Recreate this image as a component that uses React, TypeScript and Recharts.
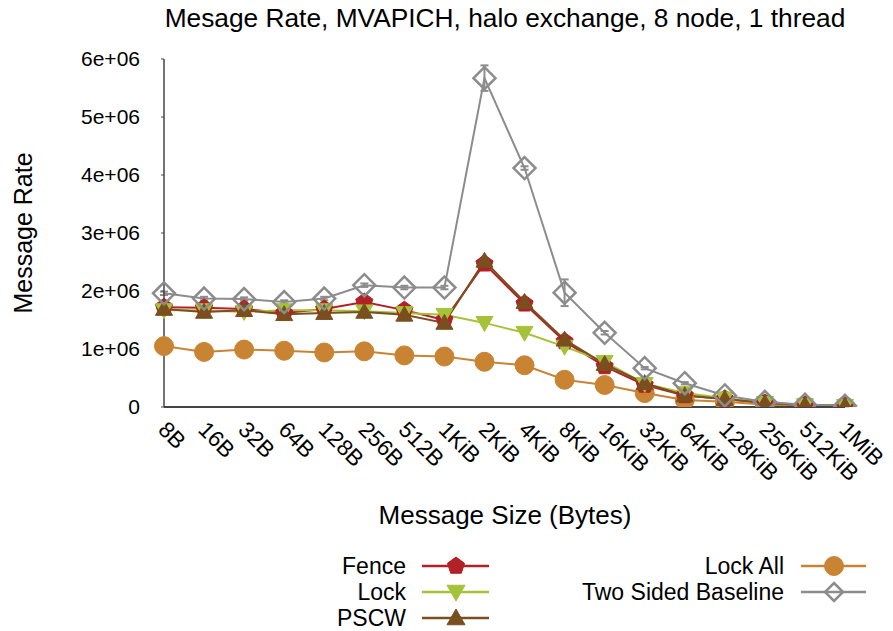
import React from 'react';
import { LineChart, Line, XAxis, YAxis, ErrorBar } from 'recharts';

const categories = ['8B','16B','32B','64B','128B','256B','512B','1KiB','2KiB','4KiB','8KiB','16KiB','32KiB','64KiB','128KiB','256KiB','512KiB','1MiB'];
const fence = [1.72,1.71,1.69,1.62,1.69,1.81,1.67,1.50,2.47,1.78,1.13,0.70,0.38,0.20,0.14,0.07,0.035,0.02];
const lock = [1.67,1.67,1.64,1.67,1.67,1.65,1.62,1.59,1.45,1.28,1.04,0.78,0.40,0.24,0.15,0.07,0.035,0.02];
const pscw = [1.69,1.64,1.67,1.60,1.62,1.64,1.59,1.45,2.52,1.81,1.16,0.74,0.41,0.20,0.14,0.07,0.035,0.02];
const lockAll = [1.05,0.95,0.99,0.97,0.94,0.96,0.89,0.87,0.78,0.72,0.47,0.38,0.24,0.12,0.09,0.04,0.02,0.01];
const twoSided = [1.96,1.87,1.86,1.81,1.87,2.10,2.06,2.06,5.67,4.12,1.97,1.28,0.67,0.41,0.20,0.09,0.04,0.02];
const twoSidedErr = [0.03,0.03,0.03,0.03,0.03,0.03,0.03,0.03,0.22,0.03,0.23,0.03,0.02,0.02,0.01,0.01,0.01,0.01];
const yTicks = [0, 1e6, 2e6, 3e6, 4e6, 5e6, 6e6];
const yTickLabels = ['0','1e+06','2e+06','3e+06','4e+06','5e+06','6e+06'];

const M = 1e6;
const data = categories.map((c, i) => ({
  cat: c,
  fence: fence[i] * M,
  lock: lock[i] * M,
  pscw: pscw[i] * M,
  lockAll: lockAll[i] * M,
  twoSided: twoSided[i] * M,
  tsErr: twoSidedErr[i] * M,
}));

const C_FENCE = '#b22126';
const C_LOCK = '#a6c238';
const C_PSCW = '#7a4f1f';
const C_LOCKALL = '#c98433';
const C_TWO = '#8c8c8c';
const FONT = '"Liberation Sans", Arial, Helvetica, sans-serif';

function pentagon(cx: number, cy: number, r: number, color: string, key?: any) {
  const pts = [];
  for (let k = 0; k < 5; k++) {
    const a = -Math.PI / 2 + (k * 2 * Math.PI) / 5;
    pts.push(`${cx + r * Math.cos(a)},${cy + r * Math.sin(a)}`);
  }
  return <polygon key={key} points={pts.join(' ')} fill={color} stroke={color} strokeWidth={1} />;
}
function triDown(cx: number, cy: number, r: number, color: string, key?: any) {
  return <polygon key={key} points={`${cx - r},${cy - r * 0.75} ${cx + r},${cy - r * 0.75} ${cx},${cy + r}`} fill={color} stroke={color} />;
}
function triUp(cx: number, cy: number, r: number, color: string, key?: any) {
  return <polygon key={key} points={`${cx - r},${cy + r * 0.75} ${cx + r},${cy + r * 0.75} ${cx},${cy - r}`} fill={color} stroke={color} />;
}
function circle(cx: number, cy: number, r: number, color: string, key?: any) {
  return <circle key={key} cx={cx} cy={cy} r={r} fill={color} stroke={color} />;
}
function diamond(cx: number, cy: number, r: number, color: string, key?: any) {
  return <polygon key={key} points={`${cx},${cy - r} ${cx + r},${cy} ${cx},${cy + r} ${cx - r},${cy}`} fill="none" stroke={color} strokeWidth={2.5} />;
}

const dotOf = (fn: any, r: number, color: string) => (p: any) => {
  if (p.cx == null || p.cy == null) return <g key={p.key} />;
  return fn(p.cx, p.cy, r, color, p.key);
};

const XTick = (props: any) => {
  const { x, y, payload } = props;
  const tx = x - 7;
  const ty = y + 16;
  return (
    <text x={tx} y={ty} transform={`rotate(45, ${tx}, ${ty})`} textAnchor="start" fontSize={22.5} fontFamily={FONT} fill="#000">
      {payload.value}
    </text>
  );
};

const legendLeft = [
  { name: 'Fence', color: C_FENCE, fn: pentagon, r: 9, y: 566 },
  { name: 'Lock', color: C_LOCK, fn: triDown, r: 9, y: 592 },
  { name: 'PSCW', color: C_PSCW, fn: triUp, r: 9, y: 618 },
];
const legendRight = [
  { name: 'Lock All', color: C_LOCKALL, fn: circle, r: 9.5, y: 566 },
  { name: 'Two Sided Baseline', color: C_TWO, fn: diamond, r: 9, y: 592 },
];

export default function App() {
  return (
    <div style={{ position: 'absolute', left: 0, top: 0, width: 893, height: 631, background: '#fff' }}>
      <LineChart
        width={893}
        height={631}
        data={data}
        margin={{ top: 59, right: 48, bottom: 164, left: 84 }}
      >
        <XAxis
          dataKey="cat"
          height={60}
          tickLine={false}
          interval={0}
          tick={<XTick />}
          axisLine={{ stroke: '#444', strokeWidth: 2 }}
          padding={{ left: 0, right: 0 }}
        />
        <YAxis
          width={80}
          domain={[0, 6e6]}
          ticks={yTicks}
          tickFormatter={(v: number) => yTickLabels[yTicks.indexOf(v)] ?? String(v)}
          tickSize={3}
          tickMargin={21}
          tickLine={{ stroke: '#444' }}
          axisLine={{ stroke: '#444', strokeWidth: 1.5 }}
          tick={{ fontSize: 21, fontFamily: FONT, fill: '#000' }}
          allowDataOverflow
        />
        <Line dataKey="lockAll" stroke={C_LOCKALL} strokeWidth={2} dot={dotOf(circle, 9.5, C_LOCKALL)} isAnimationActive={false} />
        <Line dataKey="fence" stroke={C_FENCE} strokeWidth={2} dot={dotOf(pentagon, 9, C_FENCE)} isAnimationActive={false} />
        <Line dataKey="lock" stroke={C_LOCK} strokeWidth={2} dot={dotOf(triDown, 8.5, C_LOCK)} isAnimationActive={false} />
        <Line dataKey="pscw" stroke={C_PSCW} strokeWidth={2} dot={dotOf(triUp, 8.5, C_PSCW)} isAnimationActive={false} />
        <Line dataKey="twoSided" stroke={C_TWO} strokeWidth={2} dot={dotOf(diamond, 11, C_TWO)} isAnimationActive={false}>
          <ErrorBar dataKey="tsErr" width={4} stroke={C_TWO} strokeWidth={2} direction="y" />
        </Line>
      </LineChart>
      <svg width={893} height={631} style={{ position: 'absolute', left: 0, top: 0, pointerEvents: 'none' }} fontFamily={FONT}>
        <text x={505} y={27} textAnchor="middle" fontSize={26.3} fill="#000">Mesage Rate, MVAPICH, halo exchange, 8 node, 1 thread</text>
        <text x={0} y={0} transform="translate(32, 233) rotate(-90)" textAnchor="middle" fontSize={25} fill="#000">Message Rate</text>
        <text x={505} y={524} textAnchor="middle" fontSize={26} fill="#000">Message Size (Bytes)</text>
        {legendLeft.map((l, i) => (
          <g key={'l' + i}>
            <text x={406} y={l.y + 8} textAnchor="end" fontSize={23} fill="#000">{l.name}</text>
            <line x1={422} x2={489} y1={l.y} y2={l.y} stroke={l.color} strokeWidth={2.5} />
            {l.fn(456, l.y, l.r, l.color)}
          </g>
        ))}
        {legendRight.map((l, i) => (
          <g key={'r' + i}>
            <text x={784} y={l.y + 8} textAnchor="end" fontSize={23} fill="#000">{l.name}</text>
            <line x1={801} x2={866} y1={l.y} y2={l.y} stroke={l.color} strokeWidth={2.5} />
            {l.fn(834, l.y, l.r, l.color)}
          </g>
        ))}
      </svg>
    </div>
  );
}
